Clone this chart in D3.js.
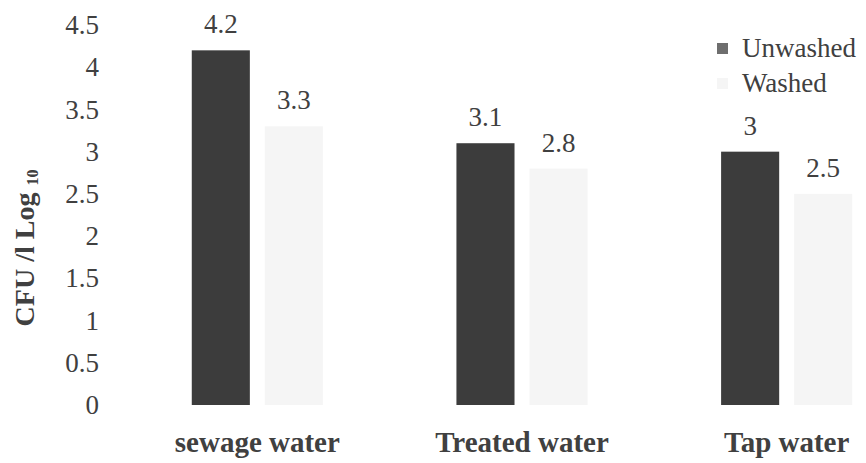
<!DOCTYPE html>
<html>
<head>
<meta charset="utf-8">
<script src="https://cdn.jsdelivr.net/npm/d3@7"></script>
<style>
  html, body { margin: 0; padding: 0; background: #fff; }
  svg { display: block; }
  svg text { font-family: "Liberation Serif", "DejaVu Serif", serif; }
</style>
</head>
<body>
<svg id="chart" width="866" height="463"></svg>
<script>
// Bacterial counts (CFU/l, log10) on unwashed and washed produce by irrigation water source
const categories = ["sewage water", "Treated water", "Tap water"];
const seriesNames = ["Unwashed", "Washed"];
const unwashed = [4.2, 3.1, 3.0];
const washed = [3.3, 2.8, 2.5];
const yTicks = [0, 0.5, 1, 1.5, 2, 2.5, 3, 3.5, 4, 4.5];

const svg = d3.select("#chart");

// plot area runs past the right edge of the frame
const x0 = d3.scaleBand().domain(categories).range([125, 919]).paddingInner(0).paddingOuter(0);
const x1 = d3.scaleBand().domain(seriesNames).range([0, x0.bandwidth()])
  .paddingInner(0.205).paddingOuter(0.914);
const y = d3.scaleLinear().domain([0, 4.5]).range([405, 25]);

const colors = { Unwashed: "#3c3c3c", Washed: "#f5f5f5" };
const textColor = "#404040";

// y axis labels only (no axis line, no gridlines)
const yAxis = d3.axisLeft(y).tickValues(yTicks).tickSize(0).tickPadding(0)
  .tickFormat(d => String(d));
svg.append("g")
  .attr("transform", "translate(99,0)")
  .call(yAxis)
  .attr("font-family", null)
  .call(g => g.select(".domain").remove())
  .call(g => g.selectAll("text")
    .attr("font-size", 27)
    .attr("dy", "0.32em")
    .attr("fill", textColor));

// y axis title
const yTitle = svg.append("text")
  .attr("transform", "translate(34,248) rotate(-90)")
  .attr("text-anchor", "middle")
  .attr("font-weight", "bold")
  .attr("font-size", 28)
  .attr("fill", textColor);
yTitle.append("tspan").text("CFU /l Log ");
yTitle.append("tspan").attr("font-size", 16).attr("dy", 4).text("10");

// bars
const rows = categories.map((c, i) => ({ cat: c, values: [
  { key: "Unwashed", value: unwashed[i] },
  { key: "Washed", value: washed[i] }
]}));

const groups = svg.append("g").selectAll("g").data(rows).join("g")
  .attr("transform", d => `translate(${x0(d.cat)},0)`);

groups.selectAll("rect").data(d => d.values).join("rect")
  .attr("x", d => x1(d.key))
  .attr("y", d => y(d.value))
  .attr("width", x1.bandwidth())
  .attr("height", d => y(0) - y(d.value))
  .attr("fill", d => colors[d.key]);

// value labels
groups.selectAll("text.val").data(d => d.values).join("text")
  .attr("class", "val")
  .attr("x", d => x1(d.key) + x1.bandwidth() / 2)
  .attr("y", d => y(d.value) - 17)
  .attr("text-anchor", "middle")
  .attr("font-size", 27)
  .attr("fill", textColor)
  .text(d => String(d.value));

// category labels
svg.append("g").selectAll("text").data(categories).join("text")
  .attr("x", d => x0(d) + x0.bandwidth() / 2)
  .attr("y", 452)
  .attr("text-anchor", "middle")
  .attr("font-weight", "bold")
  .attr("font-size", 29)
  .attr("fill", textColor)
  .text(d => d);

// legend
const legend = svg.append("g").attr("transform", "translate(717,49)");
seriesNames.forEach((s, i) => {
  const g = legend.append("g").attr("transform", `translate(0,${i * 35})`);
  g.append("rect").attr("x", 0).attr("y", -6).attr("width", 11).attr("height", 11)
    .attr("fill", s === "Unwashed" ? "#6e6e6e" : colors.Washed);
  g.append("text").attr("x", 25).attr("y", 8)
    .attr("font-size", 27).attr("fill", textColor).text(s);
});
</script>
</body>
</html>
